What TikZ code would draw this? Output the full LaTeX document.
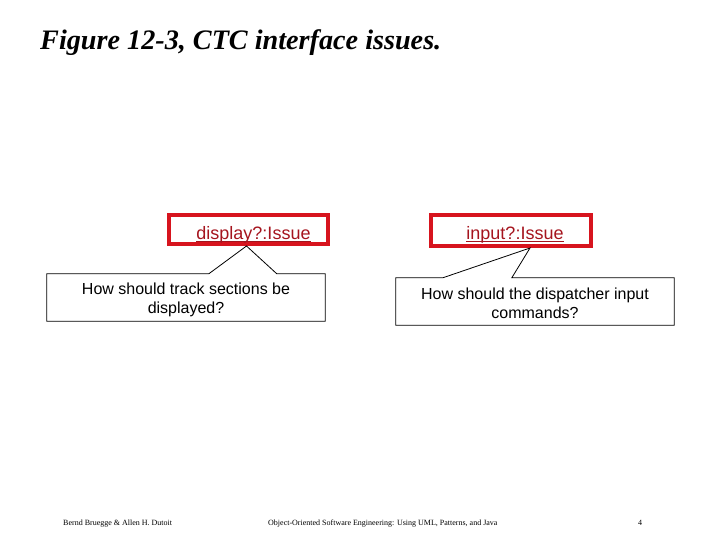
\documentclass[tikz,border=0pt]{standalone}
\usepackage{fontspec}
\setmainfont{Liberation Serif}
\newfontfamily\arialfont{Liberation Sans}
\usepackage{tikz}
\usetikzlibrary{calc}
\definecolor{issuered}{RGB}{215,20,30}
\definecolor{issuetext}{RGB}{165,20,30}
\newcommand{\issueul}[1]{\setbox0\hbox{#1}\rlap{\rule[-2.4pt]{\wd0}{1.4pt}}\box0}
\newcommand{\notelow}[1]{\raisebox{-2pt}[\height][\depth]{#1}}
\tikzset{
	issuebox/.style={draw=issuered, line width=4pt, inner sep=0pt},
	issuelabel/.style={anchor=base, text=issuetext, font=\arialfont\fontsize{18}{20}\selectfont, inner sep=0pt},
	notebox/.style={inner sep=0pt, align=center, font=\arialfont\fontsize{16}{19}\selectfont},
	footer/.style={anchor=base west, inner sep=0pt, font=\fontsize{8}{9}\selectfont}
}

\begin{document}
\begin{tikzpicture}[x=1pt,y=-1pt]
	\useasboundingbox (0,0) rectangle (720,540);
	\node[anchor=base west, inner sep=0pt, font=\bfseries\itshape\fontsize{28.2}{30}\selectfont] (title) at (40,50) {Figure 12-3, CTC interface issues.};
	% issues
	\node[issuebox, minimum width=159pt, minimum height=29pt] (disp) at (248.5,229.5) {};
	\node[issuelabel] (displabel) at (253.5,239.5) {\issueul{display?:Issue}};
	\node[issuebox, minimum width=160pt, minimum height=31pt] (inp) at (511,230.5) {};
	\node[issuelabel] (inplabel) at (515,239.5) {\issueul{input?:Issue}};
	% notes
	\node[notebox, minimum width=278pt, minimum height=47pt] (q1) at (186,297.5) {\notelow{How should track sections be}\\\notelow{displayed?}};
	\node[notebox, minimum width=278pt, minimum height=47pt] (q2) at (535,301.5) {\notelow{How should the dispatcher input}\\\notelow{commands?}};
	\coordinate (t1) at ($(disp.south)+(-2,0)$);
	\coordinate (t2) at ($(inp.south)+(19,0)$);
	\draw[line width=0.8pt, line join=miter] (q1.north west) -- ($(q1.north west)+(162,0)$) -- (t1) -- ($(q1.north west)+(230,0)$) -- (q1.north east) -- (q1.south east) -- (q1.south west) -- cycle;
	\draw[line width=0.8pt, line join=miter] (q2.north west) -- ($(q2.north west)+(47,0)$) -- (t2) -- ($(q2.north west)+(116,0)$) -- (q2.north east) -- (q2.south east) -- (q2.south west) -- cycle;
	% footer
	\node[footer] (authors) at (63,525) {Bernd Bruegge \& Allen H. Dutoit};
	\node[footer] (book) at (268,525) {Object-Oriented Software Engineering: Using UML, Patterns, and Java};
	\node[footer] (page) at (638,525) {4};
\end{tikzpicture}
\end{document}
